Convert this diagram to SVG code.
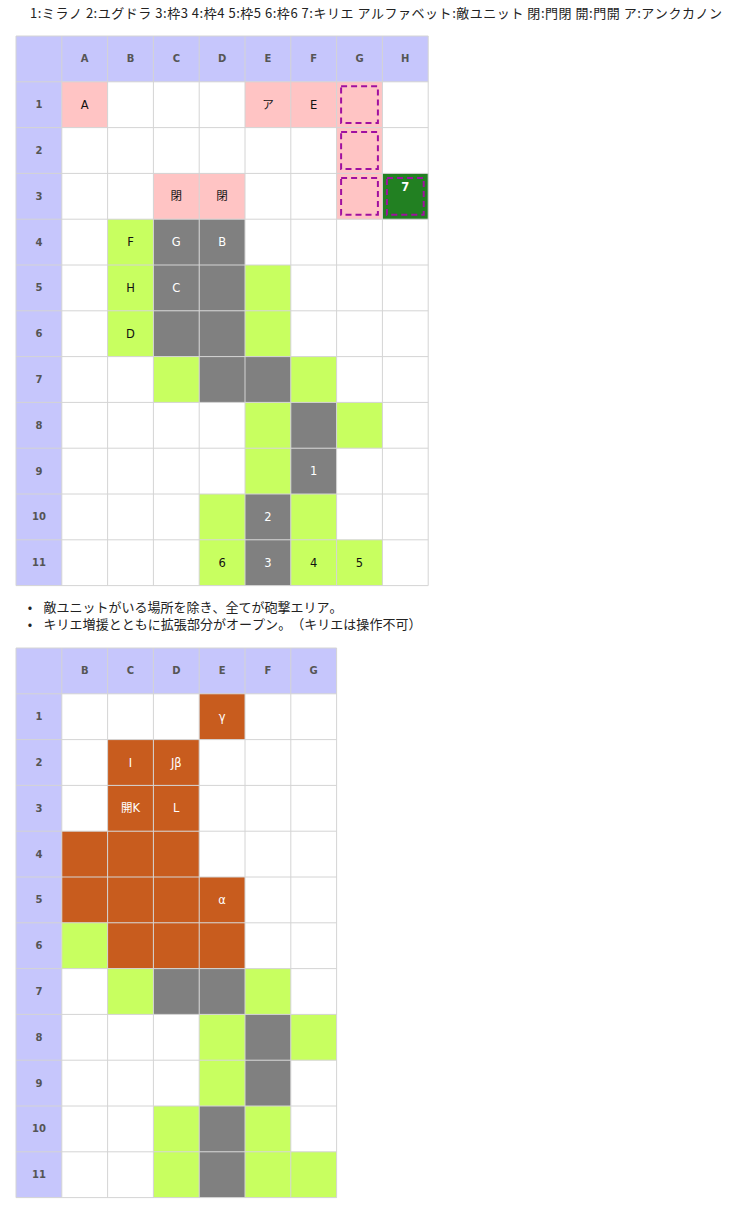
<svg xmlns="http://www.w3.org/2000/svg" width="730" height="1209" viewBox="0 0 730 1209">
<style>
.bg{fill:#ffffff}
.hd{fill:#c6c6fc}
.pk{fill:#ffc4c4}
.gn{fill:#c8ff60}
.gy{fill:#808080}
.dg{fill:#228022}
.or{fill:#c85c1e}
.grid{fill:none;stroke:#d4d4d4;stroke-width:1}
.dash{fill:none;stroke:#a010a0;stroke-width:2;stroke-dasharray:6 4}
text{font-family:"DejaVu Sans","Noto Sans CJK JP",sans-serif;text-anchor:middle;dominant-baseline:central;font-kerning:none}
.h{font-size:10px;font-weight:bold;fill:#555}
.t{font-size:11.5px;fill:#111}
.w{font-size:11.5px;fill:#fff}
.cap{font-family:"Noto Sans CJK JP",sans-serif;font-size:13px;fill:#222;dominant-baseline:auto;text-spacing-trim:space-all}
</style>
<text id="title" class="cap" x="30" y="18" textLength="692" lengthAdjust="spacing" style="text-anchor:start">1:ミラノ 2:ユグドラ 3:枠3 4:枠4 5:枠5 6:枠6 7:キリエ アルファベット:敵ユニット 閉:門閉 開:門開 ア:アンクカノン</text>

<g id="table1">
<rect class="bg" x="16" y="36" width="412.2" height="549.6"/>
<rect class="hd" x="16" y="36" width="412.2" height="45.8"/>
<rect class="hd" x="16" y="36" width="45.8" height="549.6"/>
<g class="h">
<text x="84.7" y="58.9">A</text><text x="130.5" y="58.9">B</text><text x="176.3" y="58.9">C</text><text x="222.1" y="58.9">D</text><text x="267.9" y="58.9">E</text><text x="313.7" y="58.9">F</text><text x="359.5" y="58.9">G</text><text x="405.3" y="58.9">H</text>
<text x="38.9" y="104.7">1</text><text x="38.9" y="150.5">2</text><text x="38.9" y="196.3">3</text><text x="38.9" y="242.1">4</text><text x="38.9" y="287.9">5</text><text x="38.9" y="333.7">6</text><text x="38.9" y="379.5">7</text><text x="38.9" y="425.3">8</text><text x="38.9" y="471.1">9</text><text x="38.9" y="516.9">10</text><text x="38.9" y="562.7">11</text>
</g>
<g id="t1-A1"><rect class="pk" x="61.8" y="81.8" width="45.8" height="45.8"/><text class="t" x="84.7" y="104.7">A</text></g>
<g id="t1-E1"><rect class="pk" x="245" y="81.8" width="45.8" height="45.8"/><text class="t" x="267.9" y="104.7">ア</text></g>
<g id="t1-F1"><rect class="pk" x="290.8" y="81.8" width="45.8" height="45.8"/><text class="t" x="313.7" y="104.7">E</text></g>
<g id="t1-G1"><rect class="pk" x="336.6" y="81.8" width="45.8" height="45.8"/><rect class="dash" x="341.1" y="86.3" width="36.8" height="36.8"/></g>
<g id="t1-G2"><rect class="pk" x="336.6" y="127.6" width="45.8" height="45.8"/><rect class="dash" x="341.1" y="132.1" width="36.8" height="36.8"/></g>
<g id="t1-C3"><rect class="pk" x="153.4" y="173.4" width="45.8" height="45.8"/><text class="t" x="176.3" y="196.3">閉</text></g>
<g id="t1-D3"><rect class="pk" x="199.2" y="173.4" width="45.8" height="45.8"/><text class="t" x="222.1" y="196.3">閉</text></g>
<g id="t1-G3"><rect class="pk" x="336.6" y="173.4" width="45.8" height="45.8"/><rect class="dash" x="341.1" y="177.9" width="36.8" height="36.8"/></g>
<g id="t1-H3"><rect class="dg" x="382.4" y="173.4" width="45.8" height="45.8"/><rect class="dash" x="386.9" y="177.9" width="36.8" height="36.8"/><text class="w" x="405.3" y="187" style="font-weight:bold">7</text></g>
<g id="t1-B4"><rect class="gn" x="107.6" y="219.2" width="45.8" height="45.8"/><text class="t" x="130.5" y="242.1">F</text></g>
<g id="t1-C4"><rect class="gy" x="153.4" y="219.2" width="45.8" height="45.8"/><text class="w" x="176.3" y="242.1">G</text></g>
<g id="t1-D4"><rect class="gy" x="199.2" y="219.2" width="45.8" height="45.8"/><text class="w" x="222.1" y="242.1">B</text></g>
<g id="t1-B5"><rect class="gn" x="107.6" y="265" width="45.8" height="45.8"/><text class="t" x="130.5" y="287.9">H</text></g>
<g id="t1-C5"><rect class="gy" x="153.4" y="265" width="45.8" height="45.8"/><text class="w" x="176.3" y="287.9">C</text></g>
<rect class="gy" x="199.2" y="265" width="45.8" height="45.8"/>
<rect class="gn" x="245" y="265" width="45.8" height="45.8"/>
<g id="t1-B6"><rect class="gn" x="107.6" y="310.8" width="45.8" height="45.8"/><text class="t" x="130.5" y="333.7">D</text></g>
<rect class="gy" x="153.4" y="310.8" width="45.8" height="45.8"/>
<rect class="gy" x="199.2" y="310.8" width="45.8" height="45.8"/>
<rect class="gn" x="245" y="310.8" width="45.8" height="45.8"/>
<rect class="gn" x="153.4" y="356.6" width="45.8" height="45.8"/>
<rect class="gy" x="199.2" y="356.6" width="45.8" height="45.8"/>
<rect class="gy" x="245" y="356.6" width="45.8" height="45.8"/>
<rect class="gn" x="290.8" y="356.6" width="45.8" height="45.8"/>
<rect class="gn" x="245" y="402.4" width="45.8" height="45.8"/>
<rect class="gy" x="290.8" y="402.4" width="45.8" height="45.8"/>
<rect class="gn" x="336.6" y="402.4" width="45.8" height="45.8"/>
<rect class="gn" x="245" y="448.2" width="45.8" height="45.8"/>
<g id="t1-F9"><rect class="gy" x="290.8" y="448.2" width="45.8" height="45.8"/><text class="w" x="313.7" y="471.1">1</text></g>
<rect class="gn" x="199.2" y="494" width="45.8" height="45.8"/>
<g id="t1-E10"><rect class="gy" x="245" y="494" width="45.8" height="45.8"/><text class="w" x="267.9" y="516.9">2</text></g>
<rect class="gn" x="290.8" y="494" width="45.8" height="45.8"/>
<g id="t1-D11"><rect class="gn" x="199.2" y="539.8" width="45.8" height="45.8"/><text class="t" x="222.1" y="562.7">6</text></g>
<g id="t1-E11"><rect class="gy" x="245" y="539.8" width="45.8" height="45.8"/><text class="w" x="267.9" y="562.7">3</text></g>
<g id="t1-F11"><rect class="gn" x="290.8" y="539.8" width="45.8" height="45.8"/><text class="t" x="313.7" y="562.7">4</text></g>
<g id="t1-G11"><rect class="gn" x="336.6" y="539.8" width="45.8" height="45.8"/><text class="t" x="359.5" y="562.7">5</text></g>
<path class="grid" d="M16 36V585.6M61.8 36V585.6M107.6 36V585.6M153.4 36V585.6M199.2 36V585.6M245 36V585.6M290.8 36V585.6M336.6 36V585.6M382.4 36V585.6M428.2 36V585.6M16 36H428.2M16 81.8H428.2M16 127.6H428.2M16 173.4H428.2M16 219.2H428.2M16 265H428.2M16 310.8H428.2M16 356.6H428.2M16 402.4H428.2M16 448.2H428.2M16 494H428.2M16 539.8H428.2M16 585.6H428.2"/>
</g>

<g id="notes">
<text class="cap" x="30" y="612" style="text-anchor:middle">•</text>
<text class="cap" x="43.5" y="612" textLength="299" lengthAdjust="spacing" style="text-anchor:start">敵ユニットがいる場所を除き、全てが砲撃エリア。</text>
<text class="cap" x="30" y="629" style="text-anchor:middle">•</text>
<text class="cap" x="43.5" y="629" textLength="378" lengthAdjust="spacing" style="text-anchor:start">キリエ増援とともに拡張部分がオープン。（キリエは操作不可）</text>
</g>

<g id="table2">
<rect class="bg" x="16" y="648" width="320.6" height="549.6"/>
<rect class="hd" x="16" y="648" width="320.6" height="45.8"/>
<rect class="hd" x="16" y="648" width="45.8" height="549.6"/>
<g class="h">
<text x="84.7" y="670.9">B</text><text x="130.5" y="670.9">C</text><text x="176.3" y="670.9">D</text><text x="222.1" y="670.9">E</text><text x="267.9" y="670.9">F</text><text x="313.7" y="670.9">G</text>
<text x="38.9" y="716.7">1</text><text x="38.9" y="762.5">2</text><text x="38.9" y="808.3">3</text><text x="38.9" y="854.1">4</text><text x="38.9" y="899.9">5</text><text x="38.9" y="945.7">6</text><text x="38.9" y="991.5">7</text><text x="38.9" y="1037.3">8</text><text x="38.9" y="1083.1">9</text><text x="38.9" y="1128.9">10</text><text x="38.9" y="1174.7">11</text>
</g>
<g id="t2-E1"><rect class="or" x="199.2" y="693.8" width="45.8" height="45.8"/><text class="w" x="222.1" y="716.7">γ</text></g>
<g id="t2-C2"><rect class="or" x="107.6" y="739.6" width="45.8" height="45.8"/><text class="w" x="130.5" y="762.5">I</text></g>
<g id="t2-D2"><rect class="or" x="153.4" y="739.6" width="45.8" height="45.8"/><text class="w" x="176.3" y="762.5">Jβ</text></g>
<g id="t2-C3"><rect class="or" x="107.6" y="785.4" width="45.8" height="45.8"/><text class="w" x="130.5" y="808.3">開K</text></g>
<g id="t2-D3"><rect class="or" x="153.4" y="785.4" width="45.8" height="45.8"/><text class="w" x="176.3" y="808.3">L</text></g>
<rect class="or" x="61.8" y="831.2" width="45.8" height="45.8"/>
<rect class="or" x="107.6" y="831.2" width="45.8" height="45.8"/>
<rect class="or" x="153.4" y="831.2" width="45.8" height="45.8"/>
<rect class="or" x="61.8" y="877" width="45.8" height="45.8"/>
<rect class="or" x="107.6" y="877" width="45.8" height="45.8"/>
<rect class="or" x="153.4" y="877" width="45.8" height="45.8"/>
<g id="t2-E5"><rect class="or" x="199.2" y="877" width="45.8" height="45.8"/><text class="w" x="222.1" y="899.9">α</text></g>
<rect class="gn" x="61.8" y="922.8" width="45.8" height="45.8"/>
<rect class="or" x="107.6" y="922.8" width="45.8" height="45.8"/>
<rect class="or" x="153.4" y="922.8" width="45.8" height="45.8"/>
<rect class="or" x="199.2" y="922.8" width="45.8" height="45.8"/>
<rect class="gn" x="107.6" y="968.6" width="45.8" height="45.8"/>
<rect class="gy" x="153.4" y="968.6" width="45.8" height="45.8"/>
<rect class="gy" x="199.2" y="968.6" width="45.8" height="45.8"/>
<rect class="gn" x="245" y="968.6" width="45.8" height="45.8"/>
<rect class="gn" x="199.2" y="1014.4" width="45.8" height="45.8"/>
<rect class="gy" x="245" y="1014.4" width="45.8" height="45.8"/>
<rect class="gn" x="290.8" y="1014.4" width="45.8" height="45.8"/>
<rect class="gn" x="199.2" y="1060.2" width="45.8" height="45.8"/>
<rect class="gy" x="245" y="1060.2" width="45.8" height="45.8"/>
<rect class="gn" x="153.4" y="1106" width="45.8" height="45.8"/>
<rect class="gy" x="199.2" y="1106" width="45.8" height="45.8"/>
<rect class="gn" x="245" y="1106" width="45.8" height="45.8"/>
<rect class="gn" x="153.4" y="1151.8" width="45.8" height="45.8"/>
<rect class="gy" x="199.2" y="1151.8" width="45.8" height="45.8"/>
<rect class="gn" x="245" y="1151.8" width="45.8" height="45.8"/>
<rect class="gn" x="290.8" y="1151.8" width="45.8" height="45.8"/>
<path class="grid" d="M16 648V1197.6M61.8 648V1197.6M107.6 648V1197.6M153.4 648V1197.6M199.2 648V1197.6M245 648V1197.6M290.8 648V1197.6M336.6 648V1197.6M16 648H336.6M16 693.8H336.6M16 739.6H336.6M16 785.4H336.6M16 831.2H336.6M16 877H336.6M16 922.8H336.6M16 968.6H336.6M16 1014.4H336.6M16 1060.2H336.6M16 1106H336.6M16 1151.8H336.6M16 1197.6H336.6"/>
</g>
</svg>
